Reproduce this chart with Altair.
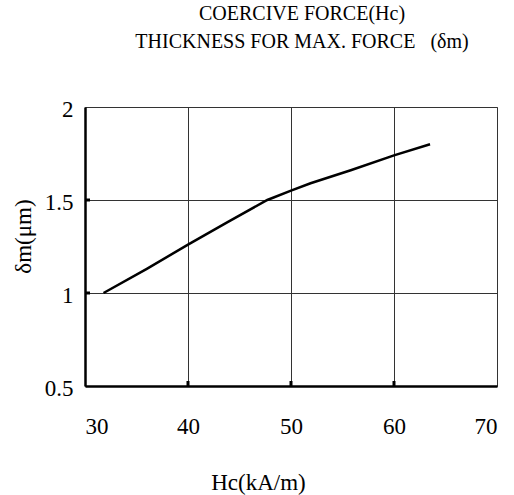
import altair as alt
import pandas as pd

hc = [31.8, 36.0, 40.0, 43.8, 47.7, 50.0, 51.9, 55.8, 60.0, 63.5]
dm = [1.00, 1.13, 1.26, 1.38, 1.50, 1.55, 1.59, 1.66, 1.74, 1.80]
x_ticks = [30, 40, 50, 60, 70]
y_ticks = [0.5, 1.0, 1.5, 2.0]
x_inner = [40, 50, 60]
y_inner = [1.0, 1.5]

FONT = "Liberation Serif"
W, H = 412, 279

df = pd.DataFrame({"hc": hc, "dm": dm})
xs = alt.Scale(domain=[30, 70], nice=False, zero=False)
ys = alt.Scale(domain=[0.5, 2], nice=False, zero=False)

line = alt.Chart(df).mark_line(color="black", strokeWidth=2.5).encode(
    x=alt.X("hc:Q", scale=xs,
            axis=alt.Axis(values=x_ticks, title="Hc(kA/m)", format="d",
                          labelPadding=29, tickSize=0,
                          titleX=173, titleY=96, titleBaseline="middle", titleAlign="center")),
    y=alt.Y("dm:Q", scale=ys,
            axis=alt.Axis(values=y_ticks, title="δm(μm)", labelPadding=12, tickSize=0,
                          format="~g", labelOffset=2,
                          titleX=-62, titleY=129, titleBaseline="middle", titleAlign="center")),
)

xt = alt.Chart(pd.DataFrame({"hc": x_inner})).mark_rule(color="black", strokeWidth=3).encode(
    x=alt.X("hc:Q", scale=xs),
    y=alt.value(H - 5), y2=alt.value(H),
)
yt = alt.Chart(pd.DataFrame({"dm": y_inner})).mark_rule(color="black", strokeWidth=3).encode(
    y=alt.Y("dm:Q", scale=ys),
    x=alt.value(0), x2=alt.value(5),
)

chart = alt.layer(line, xt, yt).properties(
    width=W, height=H,
    title=alt.TitleParams(
        text=["COERCIVE FORCE(Hc)", "THICKNESS FOR MAX. FORCE\u00a0\u00a0\u00a0(δm)"],
        anchor="middle", font=FONT, fontSize=20, fontWeight="normal",
        color="black", lineHeight=28, offset=46, dx=11,
    ),
    autosize=alt.AutoSizeParams(type="none"),
    padding={"left": 85, "top": 107, "right": 17, "bottom": 109},
).configure_view(
    stroke="#888", strokeWidth=1
).configure_axis(
    labelFont=FONT, titleFont=FONT, labelFontSize=23, titleFontSize=23,
    labelColor="black", titleColor="black", titleFontWeight="normal",
    domainColor="black", domainWidth=2.5,
    gridColor="#333", gridWidth=1, grid=True,
)

chart.save("out.html", embed_options={"renderer": "svg", "actions": False})
